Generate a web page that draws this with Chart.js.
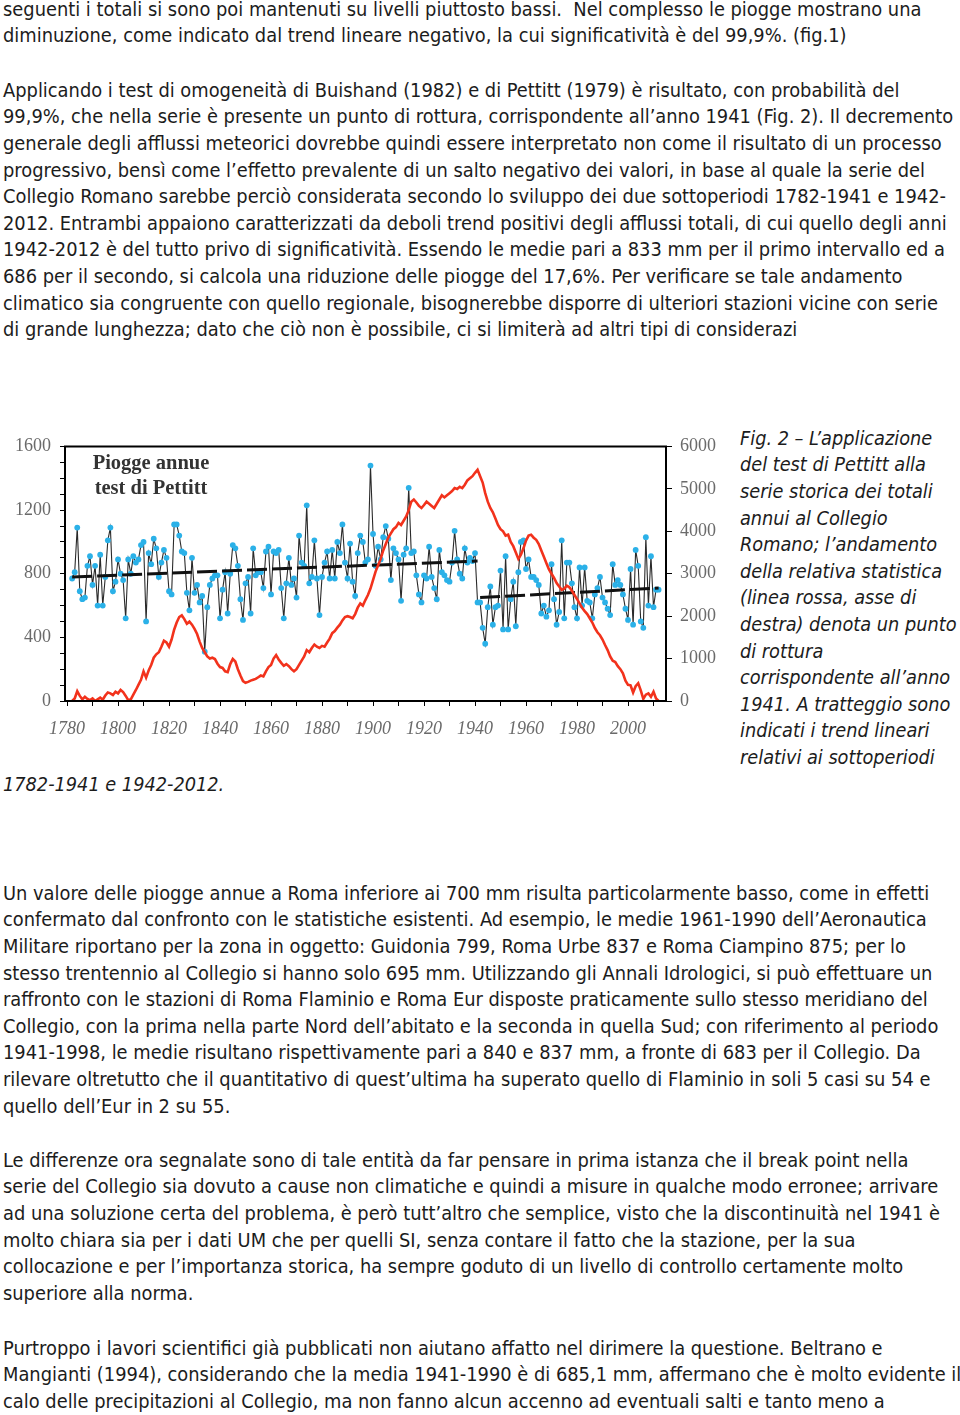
<!DOCTYPE html>
<html>
<head>
<meta charset="utf-8">
<script src="https://cdn.jsdelivr.net/npm/chart.js@4.4.1/dist/chart.umd.min.js"></script>
<style>
  html, body { margin: 0; padding: 0; background: #fff; }
  body { width: 960px; height: 1415px; position: relative; overflow: hidden; color: #1c1c1c;
         font-family: "DejaVu Sans Condensed", "DejaVu Sans", sans-serif; font-stretch: condensed; font-size: 18px; }
  .ln { position: absolute; white-space: pre; line-height: 26.6px; }
  .cap { font-style: italic; }
  #chartBox { position: absolute; left: 0; top: 425px; width: 730px; height: 320px; }
  #plotTitle { position: absolute; left: 80px; top: 450px; width: 142px; text-align: center;
               font-family: "Liberation Serif", serif; font-weight: bold; font-size: 20.5px; line-height: 25px; color: #333; }
</style>
</head>
<body>
<div id="text"></div>
<div id="chartBox"><canvas id="chart" width="730" height="320"></canvas></div>
<div id="plotTitle">Piogge annue<br>test di Pettitt</div>
<script>
// annual rainfall at Collegio Romano (mm), one value per year from 1782 to 2012
const firstYear = 1782;
const lastYear = 2012;
const rain = [
  770, 810, 1090, 690, 640, 650, 850, 910, 730, 850,   // 1782-1791
  600, 920, 600, 780, 1010, 1090, 690, 750, 890, 800,  // 1792-1801
  760, 520, 890, 800, 910, 870, 890, 980, 1000, 500,   // 1802-1811
  930, 860, 1020, 960, 780, 870, 950, 900, 690, 670,   // 1812-1821
  1110, 1110, 1040, 940, 930, 680, 570, 900, 680, 730, // 1822-1831
  620, 660, 310, 590, 730, 770, 790, 790, 520, 700,    // 1832-1841
  810, 550, 800, 980, 960, 850, 640, 510, 740, 780,    // 1842-1851
  550, 960, 790, 810, 810, 710, 940, 970, 670, 940,    // 1852-1861
  930, 950, 710, 520, 740, 900, 730, 770, 650, 1040,   // 1862-1871
  870, 850, 1230, 740, 780, 1010, 770, 540, 780, 870,  // 1872-1881
  940, 770, 950, 770, 1000, 930, 1110, 870, 770, 990,  // 1882-1891
  750, 660, 930, 1040, 1000, 870, 890, 1480, 1050, 850,// 1892-1901
  970, 890, 1030, 1100, 1020, 760, 960, 930, 890, 630, // 1902-1911
  920, 960, 1340, 930, 940, 790, 670, 620, 790, 770,   // 1912-1921
  970, 780, 710, 640, 950, 810, 790, 760, 750, 870,    // 1922-1931
  1070, 890, 800, 770, 960, 870, 900, 880, 930, 620,   // 1932-1941
  620, 460, 360, 590, 720, 480, 590, 600, 820, 450,    // 1942-1951
  910, 450, 640, 750, 470, 810, 1000, 1010, 830, 890,  // 1952-1961
  780, 780, 760, 730, 550, 600, 530, 570, 860, 640,    // 1962-1971
  480, 560, 1010, 520, 870, 870, 740, 590, 520, 840,   // 1972-1981
  600, 840, 630, 620, 520, 670, 710, 780, 650, 620,    // 1982-1991
  580, 540, 860, 730, 760, 730, 670, 580, 510, 830,    // 1992-2001
  480, 950, 850, 500, 460, 1030, 600, 910, 590, 700, 700 // 2002-2012
];

// Pettitt statistic (right axis), same years
const pettitt = [
  0, 60, 230, 120, 40, 100, 50, 20, 60, 0,
  40, 80, 30, 130, 200, 180, 140, 220, 180, 260,
  210, 120, 20, 40, 150, 260, 380, 500, 700, 550,
  720, 850, 1020, 1100, 1150, 1280, 1420, 1380, 1280, 1450,
  1680, 1850, 1980, 2020, 1930, 1820, 1870, 1800, 1700, 1580,
  1400, 1250, 1150, 1050, 1000, 1020, 990, 880, 800, 780,
  700, 680, 870, 990, 930, 750, 600, 470, 430, 450,
  480, 500, 520, 560, 600, 580, 700, 800, 850, 1000,
  1080, 980, 900, 830, 870, 820, 750, 700, 750, 850,
  950, 1050, 1200, 1150, 1250, 1330, 1280, 1250, 1300, 1280,
  1380, 1470, 1600, 1650, 1730, 1800, 1900, 1980, 2000, 1980,
  1950, 2050, 2200, 2300, 2250, 2380, 2500, 2650, 2850, 3050,
  3200, 3350, 3550, 3700, 3850, 3950, 4050, 4100, 4200, 4150,
  4250, 4350, 4500, 4700, 4750, 4680, 4600, 4550, 4620, 4700,
  4650, 4600, 4550, 4650, 4750, 4850, 4800, 4850, 4900, 4950,
  5020, 5000, 5050, 5020, 5100, 5200, 5250, 5300, 5380, 5450,
  5300, 5150, 4900, 4700, 4550, 4450, 4300, 4150, 4050, 4000,
  3900, 3920, 3750, 3650, 3500, 3350, 3450, 3600, 3780, 3900,
  3920, 3850, 3800, 3700, 3550, 3400, 3250, 3100, 3000, 2900,
  2780, 2700, 2620, 2650, 2720, 2680, 2600, 2500, 2400, 2300,
  2200, 2120, 2050, 1950, 1850, 1720, 1620, 1550, 1450, 1320,
  1200, 1050, 950, 920, 820, 750, 650, 480, 380, 370,
  200, 350, 420, 250, 50, 150, 180, 100, 220, 60, 0
];

// linear trends of the two sub-periods (dashed)
const trend1Years = [1782, 1941];
const trend1Values = [780, 880];
const trend2Years = [1942, 2012];
const trend2Values = [650, 710];

// x axis: tick marks every 10 years, labels every 20
const xTickYears = [1780, 1790, 1800, 1810, 1820, 1830, 1840, 1850, 1860, 1870, 1880, 1890,
                    1900, 1910, 1920, 1930, 1940, 1950, 1960, 1970, 1980, 1990, 2000, 2010];
const xLabelYears = [1780, 1800, 1820, 1840, 1860, 1880, 1900, 1920, 1940, 1960, 1980, 2000];

const years = [];
for (let y = firstYear; y <= lastYear; y++) years.push(y);

const pts = (xs, ys) => xs.map((x, i) => ({ x: x, y: ys[i] }));

// ---- page text ----
const paragraphs = [
  { x: 3, y: 10, cap: false, lines: [
    "seguenti i totali si sono poi mantenuti su livelli piuttosto bassi.  Nel complesso le piogge mostrano una",
    "diminuzione, come indicato dal trend lineare negativo, la cui significatività è del 99,9%. (fig.1)"
  ]},
  { x: 3, y: 91, cap: false, lines: [
    "Applicando i test di omogeneità di Buishand (1982) e di Pettitt (1979) è risultato, con probabilità del",
    "99,9%, che nella serie è presente un punto di rottura, corrispondente all’anno 1941 (Fig. 2). Il decremento",
    "generale degli afflussi meteorici dovrebbe quindi essere interpretato non come il risultato di un processo",
    "progressivo, bensì come l’effetto prevalente di un salto negativo dei valori, in base al quale la serie del",
    "Collegio Romano sarebbe perciò considerata secondo lo sviluppo dei due sottoperiodi 1782-1941 e 1942-",
    "2012. Entrambi appaiono caratterizzati da deboli trend positivi degli afflussi totali, di cui quello degli anni",
    "1942-2012 è del tutto privo di significatività. Essendo le medie pari a 833 mm per il primo intervallo ed a",
    "686 per il secondo, si calcola una riduzione delle piogge del 17,6%. Per verificare se tale andamento",
    "climatico sia congruente con quello regionale, bisognerebbe disporre di ulteriori stazioni vicine con serie",
    "di grande lunghezza; dato che ciò non è possibile, ci si limiterà ad altri tipi di considerazi"
  ]},
  { x: 740, y: 439, cap: true, lines: [
    "Fig. 2 – L’applicazione",
    "del test di Pettitt alla",
    "serie storica dei totali",
    "annui al Collegio",
    "Romano; l’andamento",
    "della relativa statistica",
    "(linea rossa, asse di",
    "destra) denota un punto",
    "di rottura",
    "corrispondente all’anno",
    "1941. A tratteggio sono",
    "indicati i trend lineari",
    "relativi ai sottoperiodi"
  ]},
  { x: 3, y: 785, cap: true, lines: ["1782-1941 e 1942-2012."] },
  { x: 3, y: 894, cap: false, lines: [
    "Un valore delle piogge annue a Roma inferiore ai 700 mm risulta particolarmente basso, come in effetti",
    "confermato dal confronto con le statistiche esistenti. Ad esempio, le medie 1961-1990 dell’Aeronautica",
    "Militare riportano per la zona in oggetto: Guidonia 799, Roma Urbe 837 e Roma Ciampino 875; per lo",
    "stesso trentennio al Collegio si hanno solo 695 mm. Utilizzando gli Annali Idrologici, si può effettuare un",
    "raffronto con le stazioni di Roma Flaminio e Roma Eur disposte praticamente sullo stesso meridiano del",
    "Collegio, con la prima nella parte Nord dell’abitato e la seconda in quella Sud; con riferimento al periodo",
    "1941-1998, le medie risultano rispettivamente pari a 840 e 837 mm, a fronte di 683 per il Collegio. Da",
    "rilevare oltretutto che il quantitativo di quest’ultima ha superato quello di Flaminio in soli 5 casi su 54 e",
    "quello dell’Eur in 2 su 55."
  ]},
  { x: 3, y: 1161, cap: false, lines: [
    "Le differenze ora segnalate sono di tale entità da far pensare in prima istanza che il break point nella",
    "serie del Collegio sia dovuto a cause non climatiche e quindi a misure in qualche modo erronee; arrivare",
    "ad una soluzione certa del problema, è però tutt’altro che semplice, visto che la discontinuità nel 1941 è",
    "molto chiara sia per i dati UM che per quelli SI, senza contare il fatto che la stazione, per la sua",
    "collocazione e per l’importanza storica, ha sempre goduto di un livello di controllo certamente molto",
    "superiore alla norma."
  ]},
  { x: 3, y: 1349, cap: false, lines: [
    "Purtroppo i lavori scientifici già pubblicati non aiutano affatto nel dirimere la questione. Beltrano e",
    "Mangianti (1994), considerando che la media 1941-1990 è di 685,1 mm, affermano che è molto evidente il",
    "calo delle precipitazioni al Collegio, ma non fanno alcun accenno ad eventuali salti e tanto meno a"
  ]}
];

const textBox = document.getElementById('text');
const lineEls = [];
paragraphs.forEach(p => {
  p.lines.forEach((t, i) => {
    const d = document.createElement('div');
    d.className = 'ln' + (p.cap ? ' cap' : '');
    d.textContent = t;
    d.style.left = p.x + 'px';
    d.style.top = (p.y - 13.3 + i * 26.6) + 'px';
    textBox.appendChild(d);
    lineEls.push({ el: d, cap: p.cap, text: t });
  });
});

// scale the font so that a few lines end where they end in the scan
function fitSize(cap, samples) {
  let have = 0, want = 0;
  samples.forEach(s => {
    const e = lineEls.find(l => l.text === s[0]);
    have += e.el.getBoundingClientRect().width;
    want += s[1];
  });
  const size = 18 * want / have;
  lineEls.filter(l => l.cap === cap).forEach(l => l.el.style.fontSize = size + 'px');
}
fitSize(false, [
  [paragraphs[0].lines[0], 915],
  [paragraphs[1].lines[2], 941],
  [paragraphs[1].lines[8], 938]
]);
fitSize(true, [
  ["della relativa statistica", 209],
  ["corrispondente all’anno", 203],
  ["destra) denota un punto", 217]
]);

// ---- chart ----
const boxPlugin = {
  id: 'box',
  afterDraw(chart) {
    const a = chart.chartArea, ctx = chart.ctx;
    ctx.save();
    ctx.strokeStyle = '#000';
    ctx.lineWidth = 2;
    ctx.strokeRect(a.left, a.top, a.right - a.left, a.bottom - a.top);
    ctx.restore();
  }
};

const tickFont = { family: 'Liberation Serif', size: 18 };

new Chart(document.getElementById('chart'), {
  type: 'line',
  data: {
    datasets: [
      {
        label: 'Pettitt',
        data: pts(years, pettitt),
        yAxisID: 'y2',
        borderColor: '#f2321c',
        borderWidth: 2.6,
        pointRadius: 0,
        order: 0
      },
      {
        label: 'trend 1782-1941',
        data: pts(trend1Years, trend1Values),
        yAxisID: 'y',
        borderColor: '#111',
        borderWidth: 3,
        borderDash: [20, 5],
        pointRadius: 0,
        order: 1
      },
      {
        label: 'trend 1942-2012',
        data: pts(trend2Years, trend2Values),
        yAxisID: 'y',
        borderColor: '#111',
        borderWidth: 3,
        borderDash: [20, 5],
        pointRadius: 0,
        order: 1
      },
      {
        label: 'Piogge annue',
        data: pts(years, rain),
        yAxisID: 'y',
        borderColor: '#2a2a2a',
        borderWidth: 1.1,
        pointRadius: 2.9,
        pointBackgroundColor: '#2bb1e8',
        pointBorderWidth: 0,
        order: 2
      }
    ]
  },
  options: {
    responsive: false,
    animation: false,
    devicePixelRatio: 1,
    layout: { padding: { top: 21.5, left: 0, right: 0, bottom: 0 } },
    plugins: { legend: { display: false }, tooltip: { enabled: false } },
    scales: {
      x: {
        type: 'linear',
        position: 'bottom',
        min: 1779.2,
        max: 2014.9,
        afterBuildTicks: s => { s.ticks = xTickYears.map(v => ({ value: v })); },
        afterFit: s => { s.height = 44; },
        ticks: {
          autoSkip: false,
          maxRotation: 0,
          padding: 12,
          color: '#6a6a6a',
          font: { family: 'Liberation Serif', size: 18, style: 'italic' },
          callback: v => xLabelYears.includes(v) ? String(v) : ''
        },
        grid: { drawOnChartArea: false, tickLength: 5, color: '#000' },
        border: { color: '#000', width: 2 }
      },
      y: {
        position: 'left',
        min: 0,
        max: 1600,
        afterFit: s => { s.width = 65; },
        ticks: {
          stepSize: 100,
          autoSkip: false,
          padding: 9,
          color: '#6a6a6a',
          font: tickFont,
          callback: v => v % 400 === 0 ? String(v) : ''
        },
        grid: { drawOnChartArea: false, tickLength: 5, color: '#000' },
        border: { color: '#000', width: 2 }
      },
      y2: {
        position: 'right',
        min: 0,
        max: 6000,
        afterFit: s => { s.width = 64; },
        ticks: {
          stepSize: 1000,
          padding: 8,
          color: '#6a6a6a',
          font: tickFont,
          callback: v => String(v)
        },
        grid: { drawOnChartArea: false, tickLength: 6, color: '#000' },
        border: { color: '#000', width: 2 }
      }
    }
  },
  plugins: [boxPlugin]
});
</script>
</body>
</html>
